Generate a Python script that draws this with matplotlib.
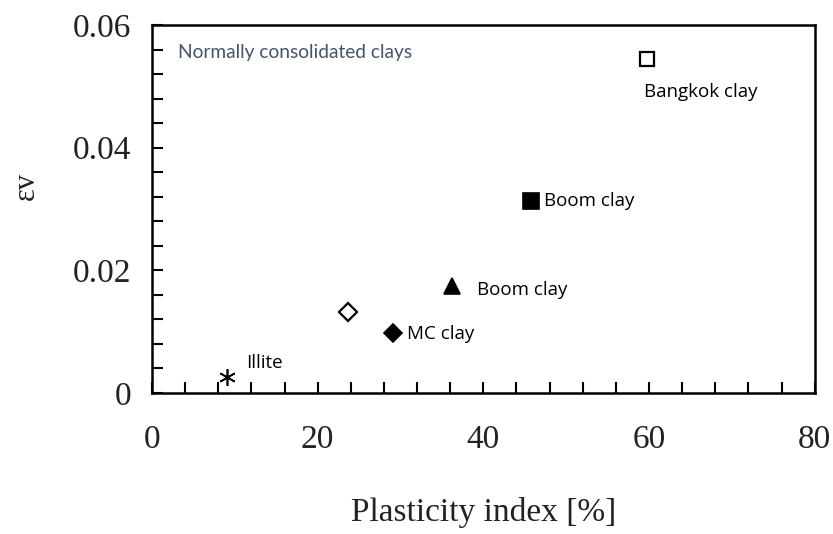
import matplotlib
matplotlib.use("Agg")
import matplotlib.pyplot as plt
from matplotlib.ticker import MultipleLocator

# Data
labels = ["Bangkok clay", "Boom clay", "Boom clay", "MC clay", "", "Illite"]
plasticity = [59.7, 45.8, 36.2, 29.1, 23.6, 9.0]
strain = [0.0545, 0.0313, 0.0174, 0.0098, 0.0132, 0.0026]
markers = ["s", "s", "^", "D", "D", (6, 2, 0)]
filled = [False, True, True, True, False, True]
sizes = [10, 11, 11, 9, 9, 12]
label_offsets = [(-2, -24), (9, 0), (18, -3), (10, -1), (0, 0), (14, 10)]

x_ticks = [0, 20, 40, 60, 80]
y_ticks = [0, 0.02, 0.04, 0.06]
y_tick_labels = ["0", "0.02", "0.04", "0.06"]

fig = plt.figure(figsize=(8.33, 5.34), dpi=100)
ax = fig.add_axes([0.1825, 0.264, 0.7955, 0.689])

for x, y, m, f, s, lab, off in zip(plasticity, strain, markers, filled, sizes, labels, label_offsets):
    ax.plot([x], [y], linestyle="none", marker=m, markersize=s,
            markerfacecolor="black" if f else "white",
            markeredgecolor="black", markeredgewidth=1.6 if not f else 1.2,
            clip_on=False, zorder=3)
    if lab:
        ax.annotate(lab, (x, y), xytext=off, textcoords="offset points",
                    ha="left", va="center", fontsize=13.5,
                    family=["Open Sans", "DejaVu Sans"], color="black")

ax.text(0.039, 0.925, "Normally consolidated clays", transform=ax.transAxes,
        ha="left", va="center", fontsize=13.8, color="#44546A",
        family=["Lato", "Open Sans", "DejaVu Sans"])

ax.set_xlim(0, 80)
ax.set_ylim(0, 0.0595)
ax.set_xticks(x_ticks)
ax.set_yticks(y_ticks)
ax.set_yticklabels(y_tick_labels)
ax.xaxis.set_minor_locator(MultipleLocator(4))
ax.yaxis.set_minor_locator(MultipleLocator(0.004))
ax.tick_params(which="both", direction="in", top=False, right=False,
               length=8, width=1.5)
ax.tick_params(axis="x", labelsize=24, pad=23)
ax.tick_params(axis="y", labelsize=24, pad=15)
for t in ax.get_xticklabels() + ax.get_yticklabels():
    t.set_family("Liberation Serif")
    t.set_color("#222222")
for sp in ax.spines.values():
    sp.set_linewidth(1.8)

ax.set_xlabel("Plasticity index [%]", fontsize=24, family="Liberation Serif",
              color="#222222", labelpad=30)
fig.text(0.032, 0.652, "εv", rotation=90, ha="center", va="center",
         fontsize=22, family="Liberation Serif", color="#222222")

fig.savefig("out.png", dpi=100)
